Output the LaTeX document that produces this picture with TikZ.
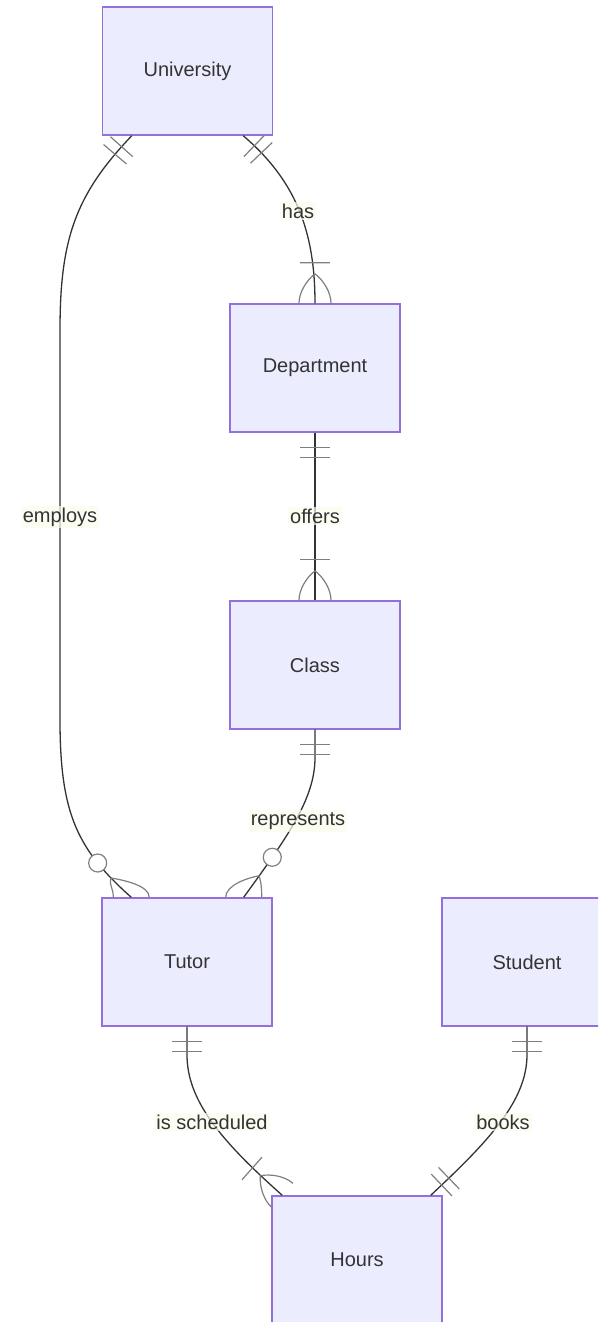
\documentclass[tikz,border=0pt]{standalone}
\usepackage{fontspec}
\setmainfont{Liberation Sans}
\usetikzlibrary{calc,decorations.markings}
\definecolor{boxfill}{HTML}{ECECFF}
\definecolor{boxline}{HTML}{9370DB}
\definecolor{edgecol}{HTML}{333333}
\definecolor{mkcol}{HTML}{7F7F7F}
\definecolor{lblbg}{RGB}{249,252,236}
\tikzset{
  entity/.style={draw=boxline, fill=boxfill, line width=1.4pt, minimum width=170pt,
    minimum height=128pt, inner sep=0pt, text=edgecol, font=\fontsize{20}{24}\selectfont},
  rel/.style={draw=edgecol, line width=1.3pt},
  mk/.style={draw=mkcol, line width=1.2pt},
  lbl/.style={fill=lblbg, fill opacity=0.7, text opacity=1, text=edgecol,
    font=\fontsize{20}{24}\selectfont, inner sep=2pt},
  onestart/.style={postaction={decorate, decoration={markings,
    mark=at position 15pt with {\draw[mk] (0pt,-15pt) -- (0pt,15pt);},
    mark=at position 25pt with {\draw[mk] (0pt,-15pt) -- (0pt,15pt);}}}},
  oneend/.style={postaction={decorate, decoration={markings,
    mark=at position -15pt with {\draw[mk] (0pt,-15pt) -- (0pt,15pt);},
    mark=at position -25pt with {\draw[mk] (0pt,-15pt) -- (0pt,15pt);}}}},
  manyend/.style={postaction={decorate, decoration={markings,
    mark=at position -0.5pt with {
      \draw[mk] (-40pt,-15pt) -- (-40pt,15pt);
      \draw[mk] (-29pt,0pt) .. controls (-22pt,9pt) and (-10pt,16pt) .. (0.5pt,16pt);
      \draw[mk] (-29pt,0pt) .. controls (-22pt,-9pt) and (-10pt,-16pt) .. (0.5pt,-16pt);}}}},
  ring/.style={mk, fill=white}
}
\begin{document}
\begin{tikzpicture}[x=1pt,y=-1pt]
\useasboundingbox (0,0) rectangle (598,1322);
\clip (0,0) rectangle (598,1322);
% entities
\node[entity] (uni) at (187.5,71) {University};
\node[entity] (dept) at (315,368) {Department};
\node[entity] (cls) at (315,665) {Class};
\node[entity] (tutor) at (187,962) {Tutor};
\node[entity] (student) at (527,962) {Student};
\node[entity] (hours) at (357,1260) {Hours};
% helper coordinates
\coordinate (e1) at (60,330);
\coordinate (e2) at (60,720);
\coordinate (tl) at ($(tutor.north west)+(30,0)$);
\coordinate (tr) at ($(tutor.north east)+(-29,0)$);
% relationships
\draw[rel, onestart, manyend] ($(uni.south east)+(-30,0)$) .. controls (295,180) and (315,230) .. (dept.north);
\draw[rel, onestart] ($(uni.south west)+(30,0)$) .. controls (75,195) and (60,240) .. (e1) -- (e2)
   .. controls (60,815) and (78,850) .. (tl) coordinate[pos=0.75] (ringL) coordinate[pos=0.86] (crowL);
\draw[rel, onestart, manyend] (dept.south) -- (cls.north);
\draw[rel, onestart] (cls.south) -- ++(0,28) .. controls (315,800) and (285,840) .. (tr)
   coordinate[pos=0.75] (ringR) coordinate[pos=0.87] (crowR);
\draw[rel, onestart, manyend] (tutor.south) -- ++(0,28) .. controls (187,1100) and (220,1140) .. ($(hours.north west)+(11,0)$);
\draw[rel, onestart, oneend] (student.south) -- ++(0,28) .. controls (527,1100) and (490,1140) .. ($(hours.north east)+(-12,0)$);
% zero-or-many markers at Tutor
\draw[ring] (ringL) circle[radius=9pt];
\draw[mk] (crowL) .. controls +(-2,8) and +(0,-10) .. ($(tl)+(-18,0)$);
\draw[mk] (crowL) .. controls +(12,2) and +(0,-12) .. ($(tl)+(18,0)$);
\draw[ring] (ringR) circle[radius=9pt];
\draw[mk] (crowR) .. controls +(2,8) and +(0,-10) .. ($(tr)+(18,0)$);
\draw[mk] (crowR) .. controls +(-12,2) and +(0,-12) .. ($(tr)+(-18,0)$);
% labels
\node[lbl] (lhas) at (298,211) {has};
\node[lbl] (lemp) at (60,517) {employs};
\node[lbl] (loff) at (315,516) {offers};
\node[lbl] (lrep) at (298,821) {represents};
\node[lbl] (lsch) at (212,1122) {is scheduled};
\node[lbl] (lbook) at (503,1122) {books};
\end{tikzpicture}
\end{document}
